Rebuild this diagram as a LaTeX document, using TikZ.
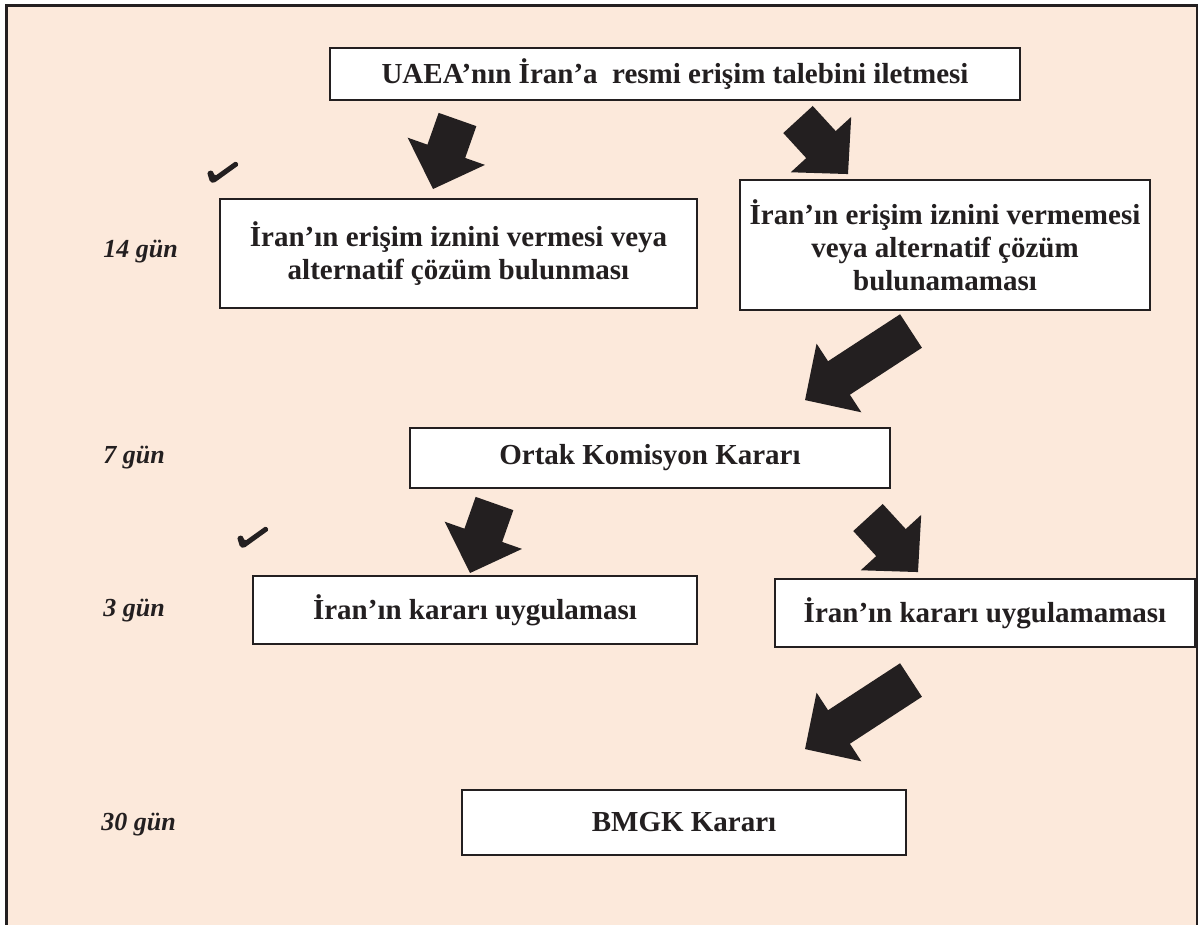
\documentclass[tikz,border=0pt]{standalone}
\usepackage{fontspec}
\setmainfont{Liberation Serif}
\definecolor{bg}{HTML}{FCE9DB}
\definecolor{ink}{HTML}{231F20}
\newcommand\fatarr[4]{%
  \fill[ink, shift={(#1)}, rotate=#2] (0,-20) -- ({#3-#4},-20) -- ({#3-#4},-41) -- (#3,0) -- ({#3-#4},41) -- ({#3-#4},20) -- (0,20) -- cycle;}
\tikzset{
  checkmk/.pic={\fill[ink, rounded corners=1.5pt] (-5,-10) -- (0,-12) -- (3,-6) -- (24,-21) -- (27,-17) -- (2,1) -- (-2,0) -- cycle;}
}
\begin{document}
\begin{tikzpicture}[x=1pt,y=-1pt,
  box/.style={draw=ink, line width=2.5pt, fill=white, inner sep=0pt, align=center,
    font=\fontsize{29}{33}\selectfont\bfseries, text=ink},
  lbl/.style={font=\fontsize{26}{31}\selectfont\bfseries\itshape, text=ink, anchor=east, inner sep=0pt}]
\useasboundingbox (0,0) rectangle (1198,924);
\fill[bg] (6,5) rectangle (1197,930);
\draw[ink, line width=3pt] (6,930) -- (6,5) -- (1197,5) -- (1197,930);

\node[box, minimum width=690pt, minimum height=52pt] (b1) at (675,74) {UAEA’nın İran’a\ \ resmi erişim talebini iletmesi};
\node[box, minimum width=477pt, minimum height=109pt] (b2) at (458.5,253.5) {İran’ın erişim iznini vermesi veya\\alternatif çözüm bulunması};
\node[box, minimum width=410pt, minimum height=130pt] (b3) at (945,245) {İran’ın erişim iznini vermemesi\\veya alternatif çözüm\\bulunamaması};
\node[box, minimum width=480pt, minimum height=60pt] (b4) at (650,458) {Ortak Komisyon Kararı};
\node[box, minimum width=444pt, minimum height=68pt] (b5) at (475,610) {İran’ın kararı uygulaması};
\node[box, minimum width=420pt, minimum height=68pt] (b6) at (985,613) {İran’ın kararı uygulamaması};
\node[box, minimum width=444pt, minimum height=65pt] (b7) at (684,822.5) {BMGK Kararı};

\node[lbl] (l1) at (178,252) {14 gün};
\node[lbl] (l2) at (165,458) {7 gün};
\node[lbl] (l3) at (165,611) {3 gün};
\node[lbl] (l4) at (176,825) {30 gün};

\fatarr{457.5,119.5}{-109.4}{73.7}{40}
\fatarr{798,119.5}{-47.5}{74}{40}
\fatarr{911,331}{-146.9}{126.5}{40.5}
\fatarr{494.5,503.5}{-109.4}{73.7}{40}
\fatarr{868,517.5}{-47.5}{74}{40}
\fatarr{911,680}{-146.9}{126.5}{40.5}

\pic at (212,182) {checkmk};
\pic at (242,547) {checkmk};
\end{tikzpicture}
\end{document}
